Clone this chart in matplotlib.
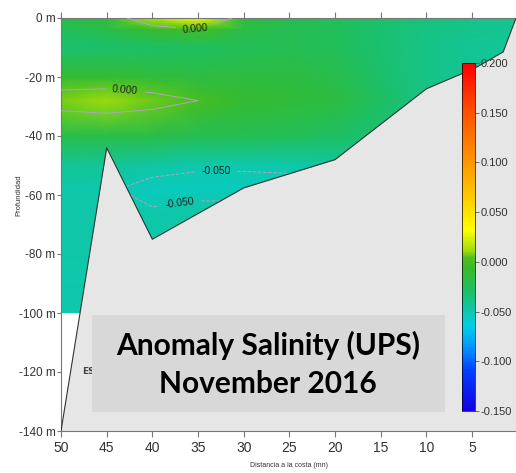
import numpy as np
import matplotlib.pyplot as plt
from matplotlib.colors import LinearSegmentedColormap
from matplotlib.patches import Polygon, Rectangle
from matplotlib.ticker import FuncFormatter

plt.rcParams['axes.unicode_minus'] = False
narrow = ['Liberation Sans', 'DejaVu Sans']

# estaciones (mn) y niveles (m)
distancia = [50, 45, 40, 35, 30, 25, 20, 15, 10, 5, 0]
profundidad = [0, -4, -10, -20, -28, -40, -50, -58, -66, -80, -100]

# anomalia de salinidad (UPS), filas = niveles, columnas = estaciones
anomalia = [
    [-0.020, -0.012, 0.015, 0.035, -0.012, -0.020, -0.025, -0.030, -0.035, -0.040, -0.040],
    [-0.025, -0.020, -0.008, -0.002, -0.018, -0.022, -0.025, -0.032, -0.037, -0.040, -0.042],
    [-0.032, -0.031, -0.029, -0.027, -0.024, -0.022, -0.025, -0.032, -0.038, -0.042, -0.044],
    [-0.010, -0.010, -0.012, -0.015, -0.015, -0.016, -0.020, -0.030, -0.038, -0.042, -0.044],
    [0.008, 0.010, 0.006, 0.000, -0.010, -0.012, -0.016, -0.028, -0.038, -0.042, -0.044],
    [-0.020, -0.018, -0.018, -0.022, -0.022, -0.024, -0.028, -0.034, -0.040, -0.044, -0.045],
    [-0.043, -0.044, -0.047, -0.049, -0.049, -0.049, -0.046, -0.046, -0.046, -0.047, -0.047],
    [-0.048, -0.049, -0.053, -0.053, -0.053, -0.052, -0.050, -0.048, -0.048, -0.048, -0.048],
    [-0.048, -0.048, -0.049, -0.047, -0.047, -0.047, -0.047, -0.047, -0.047, -0.047, -0.047],
    [-0.048, -0.048, -0.048, -0.048, -0.048, -0.048, -0.048, -0.048, -0.048, -0.048, -0.048],
    [-0.049, -0.049, -0.049, -0.049, -0.049, -0.049, -0.049, -0.049, -0.049, -0.049, -0.049],
]

# perfil del agua: superficie, fondo marino y corte a 100 m
agua_x = [50, 0.2, 1.6, 4.7, 10, 20, 30, 40, 45, 47.92, 50]
agua_y = [0, 0, -11.5, -17, -24, -48, -57.6, -75, -44, -100, -100]
fondo_x = [0.2, 1.6, 4.7, 10, 20, 30, 40, 45, 50]
fondo_y = [0, -11.5, -17, -24, -48, -57.6, -75, -44, -140]

niveles = [-0.05, 0.0]
etiquetas = [(35.2, -1.4), (43, -25), (33, -52.5), (37, -63)]

cb_ticks = [-0.15, -0.10, -0.05, 0.0, 0.05, 0.10, 0.15, 0.20]

paleta = LinearSegmentedColormap.from_list('anom', [
    (0.000, (0.08, 0.00, 0.90)),
    (0.115, (0.00, 0.25, 1.00)),
    (0.185, (0.00, 0.60, 1.00)),
    (0.245, (0.00, 0.82, 0.90)),
    (0.290, (0.06, 0.78, 0.66)),
    (0.350, (0.12, 0.75, 0.38)),
    (0.410, (0.22, 0.73, 0.16)),
    (0.440, (0.32, 0.75, 0.12)),
    (0.460, (0.62, 0.86, 0.05)),
    (0.520, (1.00, 1.00, 0.00)),
    (0.620, (1.00, 0.78, 0.00)),
    (0.720, (1.00, 0.58, 0.00)),
    (0.860, (1.00, 0.32, 0.00)),
    (1.000, (1.00, 0.00, 0.00)),
])

fig = plt.figure(figsize=(5.16, 4.73), dpi=100)
ax = fig.add_axes([61 / 516, 42 / 473, 455 / 516, 413 / 473])
ax.set_facecolor('#e6e6e6')
ax.set_xlim(50, 0.2)
ax.set_ylim(-140, 0)

ax.add_patch(Polygon([(50, -100), (47.92, -100), (50, -140)], closed=True,
                     facecolor='white', edgecolor='none', zorder=1))

agua = Polygon(list(zip(agua_x, agua_y)), closed=True, facecolor='none',
               edgecolor='none')
ax.add_patch(agua)

X, Y = np.meshgrid(distancia, profundidad)
Z = np.array(anomalia)
malla = ax.pcolormesh(X, Y, Z, cmap=paleta, vmin=-0.15, vmax=0.2,
                      shading='gouraud', zorder=2)
malla.set_clip_path(agua)

cs = ax.contour(X, Y, Z, levels=niveles, colors='#b2a2c8', linewidths=0.7,
                zorder=3)
cs.set_clip_path(agua)
lbl = ax.clabel(cs, fmt='%.3f', fontsize=7.5, manual=etiquetas, colors='#222222')
for t in lbl:
    t.set_family(narrow)

ax.plot(fondo_x, fondo_y, color='#333333', lw=0.8, zorder=4)
ax.text(47.7, -120, 'ESTACIONES', fontsize=6.5, fontweight='bold',
        color='#444444', va='center', zorder=3)

# ejes
for s in ['top', 'left', 'bottom']:
    ax.spines[s].set_color('#777777')
    ax.spines[s].set_linewidth(0.8)
ax.spines['right'].set_visible(False)
ax.set_xticks([50, 45, 40, 35, 30, 25, 20, 15, 10, 5])
ax.set_yticks(range(-140, 1, 20))
ax.yaxis.set_major_formatter(FuncFormatter(lambda v, p: f'{int(v)} m'))
ax.tick_params(axis='x', which='both', top=True, direction='out', length=4,
               color='#777777', labelsize=10, pad=3)
ax.tick_params(axis='y', direction='out', length=3, color='#777777',
               labelsize=8.5, pad=1)
for t in ax.get_xticklabels() + ax.get_yticklabels():
    t.set_family(narrow)
    t.set_color('#333333')
ax.set_xlabel('Distancia a la costa (mn)', fontsize=5, family=narrow,
              color='#333333', labelpad=5)
ax.set_ylabel('Profundidad', fontsize=5.5, family=narrow, color='#333333')
ax.yaxis.set_label_coords(-0.085, 0.57)

# barra de colores
cax = fig.add_axes([462 / 516, 62 / 473, 13 / 516, 348 / 473])
cb = fig.colorbar(malla, cax=cax, ticks=cb_ticks, format='%.3f')
cb.outline.set_linewidth(0.5)
cb.ax.tick_params(length=3, width=0.6, labelsize=8, pad=1, color='#555555')
for t in cb.ax.get_yticklabels():
    t.set_family(narrow)
    t.set_color('#333333')

# recuadro con titulo
fig.patches.append(Rectangle((92 / 516, 61 / 473), 353 / 516, 97 / 473,
                             transform=fig.transFigure, facecolor='#d8d8d8',
                             edgecolor='none', zorder=5))
fig.text(268 / 516, 1 - 345 / 473, 'Anomaly Salinity (UPS)', fontsize=21.5,
         fontweight='bold', family=['Lato', 'DejaVu Sans'], ha='center',
         va='center', zorder=6)
fig.text(268 / 516, 1 - 384 / 473, 'November 2016', fontsize=21.5,
         fontweight='bold', family=['Lato', 'DejaVu Sans'], ha='center',
         va='center', zorder=6)

fig.savefig('out.png', dpi=100)
